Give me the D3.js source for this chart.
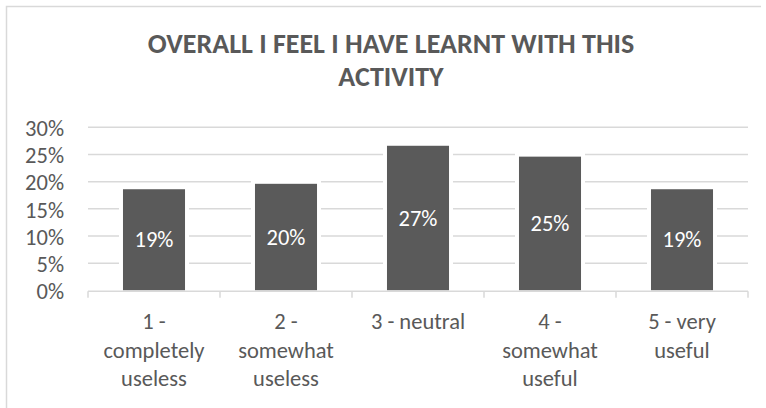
<!DOCTYPE html>
<html>
<head>
<meta charset="utf-8">
<script src="https://cdn.jsdelivr.net/npm/d3@7"></script>
<style>
  html, body { margin: 0; padding: 0; background: #fff; overflow: hidden; }
  text { font-family: Carlito, Calibri, Lato, sans-serif; fill: #595959; }
</style>
</head>
<body>
<div id="chart"></div>
<script>
// data
const categories = ['1 - completely useless', '2 - somewhat useless', '3 - neutral', '4 - somewhat useful', '5 - very useful'];
const categoryLines = [['1 -', 'completely', 'useless'], ['2 -', 'somewhat', 'useless'], ['3 - neutral'], ['4 -', 'somewhat', 'useful'], ['5 - very', 'useful']];
const values = [0.186, 0.196, 0.266, 0.246, 0.186];
const yTicks = [0, 0.05, 0.10, 0.15, 0.20, 0.25, 0.30];
const titleLines = ['OVERALL I FEEL I HAVE LEARNT WITH THIS', 'ACTIVITY'];

const width = 766, height = 408;
const plot = {left: 88, right: 748, top: 127.3, bottom: 290.3};
const barColor = '#5a5a5a';
const gridColor = '#d9d9d9';
const fontSize = '22.5px';

const svg = d3.select('#chart').append('svg')
    .attr('width', width)
    .attr('height', height);

// chart area border (only left and top visible)
svg.append('path')
    .attr('d', 'M6.5,' + height + 'V6.5H761')
    .attr('fill', 'none')
    .attr('stroke', gridColor)
    .attr('stroke-width', 1.5);

// title
svg.append('g').selectAll('text')
    .data(titleLines)
    .join('text')
    .attr('x', 391)
    .attr('y', (d, i) => 52.7 + i * 33.3)
    .attr('text-anchor', 'middle')
    .style('font-size', '28px')
    .style('font-weight', 'bold')
    .text(d => d);

const xScale = d3.scaleBand()
    .domain(categories)
    .range([plot.left, plot.right])
    .paddingInner(0.53)
    .paddingOuter(0.265);

const yScale = d3.scaleLinear()
    .domain([0, 0.3])
    .range([plot.bottom, plot.top]);

// gridlines
svg.append('g').selectAll('line')
    .data(yTicks.filter(d => d > 0))
    .join('line')
    .attr('x1', plot.left)
    .attr('x2', plot.right)
    .attr('y1', d => yScale(d))
    .attr('y2', d => yScale(d))
    .attr('stroke', gridColor)
    .attr('stroke-width', 1.5);

// y labels
svg.append('g').selectAll('text')
    .data(yTicks)
    .join('text')
    .attr('x', 64)
    .attr('y', d => yScale(d) + 8.7)
    .attr('text-anchor', 'end')
    .style('font-size', fontSize)
    .text(d3.format('.0%'));

// white halo round the bars, then the bars
const gap = 4;
svg.append('g').selectAll('rect')
    .data(values)
    .join('rect')
    .attr('x', (d, i) => xScale(categories[i]) - gap)
    .attr('y', d => yScale(d) - gap)
    .attr('width', xScale.bandwidth() + gap * 2)
    .attr('height', d => yScale(0) - yScale(d) + gap)
    .attr('fill', '#fff');

svg.append('g').selectAll('rect')
    .data(values)
    .join('rect')
    .attr('x', (d, i) => xScale(categories[i]))
    .attr('y', d => yScale(d))
    .attr('width', xScale.bandwidth())
    .attr('height', d => yScale(0) - yScale(d))
    .attr('fill', barColor);

// value labels
svg.append('g').selectAll('text')
    .data(values)
    .join('text')
    .attr('x', (d, i) => xScale(categories[i]) + xScale.bandwidth() / 2)
    .attr('y', d => (yScale(d) + yScale(0)) / 2 + 7.5)
    .attr('text-anchor', 'middle')
    .style('font-size', fontSize)
    .style('fill', '#fff')
    .text(d3.format('.0%'));

// x axis line with ticks at the band edges
const step = xScale.step();
const tickX = categories.map(c => xScale(c) - (step - xScale.bandwidth()) / 2);
tickX.push(plot.right);
const axis = svg.append('g');
axis.append('line')
    .attr('x1', plot.left)
    .attr('x2', plot.right)
    .attr('y1', plot.bottom + 1)
    .attr('y2', plot.bottom + 1)
    .attr('stroke', gridColor)
    .attr('stroke-width', 1.5);
axis.selectAll('.tick')
    .data(tickX)
    .join('line')
    .attr('class', 'tick')
    .attr('x1', d => d)
    .attr('x2', d => d)
    .attr('y1', plot.bottom + 1)
    .attr('y2', plot.bottom + 7.5)
    .attr('stroke', gridColor)
    .attr('stroke-width', 1.5);

// category labels
const catGroups = svg.append('g').selectAll('text')
    .data(categories)
    .join('text')
    .attr('text-anchor', 'middle')
    .style('font-size', fontSize);

catGroups.selectAll('tspan')
    .data((d, i) => categoryLines[i].map(line => ({line, x: xScale(d) + xScale.bandwidth() / 2})))
    .join('tspan')
    .attr('x', d => d.x)
    .attr('y', (d, j) => 329 + j * 28.7)
    .text(d => d.line);
</script>
</body>
</html>
